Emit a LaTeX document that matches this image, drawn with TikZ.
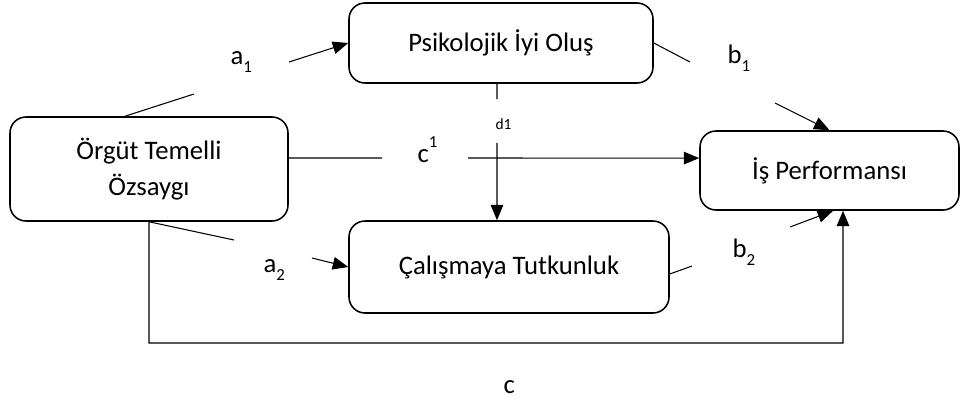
\documentclass[tikz,border=0pt]{standalone}
\usepackage{fontspec}
\setmainfont{Carlito}
\usetikzlibrary{arrows.meta}
\newcommand{\lsub}[2]{#1\raisebox{-6pt}{\fontsize{12}{12}\selectfont #2}}
\newcommand{\lsup}[2]{#1\raisebox{10pt}{\fontsize{12}{12}\selectfont #2}}
\begin{document}
\begin{tikzpicture}[x=0.25mm, y=-0.25mm, line width=0.75pt,
    >={Triangle[length=11pt, width=9pt]},
    box/.style={draw, line width=1.1pt, rounded corners=4mm, align=center,
      font=\fontsize{19}{25.6}\selectfont},
    lab/.style={inner sep=0pt, anchor=base west,
      font=\fontsize{19}{19}\selectfont}]
  \useasboundingbox (0,0) rectangle (960,400);
  \begin{scope}[every node/.style={box}]
    \node [minimum width=69.5mm, minimum height=26mm] (org) at (149,169)
    {Örgüt Temelli\\Özsaygı}; \node [minimum width=76mm, minimum
    height=20mm] (psi) at (501,43) {Psikolojik İyi Oluş}; \node
    [minimum width=80mm, minimum height=23mm] (cal) at (509,267)
    {Çalışmaya Tutkunluk}; \node [minimum width=64.75mm, minimum
    height=19.75mm] (is) at (829.5,170.5) {İş Performansı};
  \end{scope}
  \coordinate (a1in) at (194,94); \coordinate (a1out) at (289,62);
  \coordinate (a2in) at (234,240); \coordinate (a2out) at (312,258);
  \coordinate (b1in) at (690,62); \coordinate (b1out) at (775,103);
  \coordinate (b2in) at (692,266); \coordinate (b2out) at (790,227);
  \coordinate (c1in) at (382,158); \coordinate (c1out) at (468,158);
  \coordinate (d1in) at (497,99); \coordinate (d1out) at (497,143);
  \coordinate (cbend) at (843,343);
  \begin{scope}[->]
    \draw [-] ([xshift=-6mm]org.north) -- (a1in); \draw (a1out) --
    (psi.west); \draw [-] (org.south) -- (a2in); \draw (a2out) --
    (cal.west); \draw [-] (psi.east) -- (b1in); \draw (b1out) --
    (is.north); \draw [-] ([yshift=-1.75mm]cal.east) -- (b2in); \draw
    (b2out) -- ([xshift=0.9mm]is.south); \draw [-]
    ([yshift=2.75mm]org.east) -- (c1in); \draw (c1out) --
    ([yshift=3.1mm]is.west); \draw [-] ([xshift=-1mm]psi.south) --
    (d1in); \draw (d1out) -- ([xshift=-3mm]cal.north); \draw
    (org.south) |- (cbend) -- ([xshift=3.375mm]is.south);
  \end{scope}
  \node [lab] (a1) at (230,64) {\lsub{a}{1}};
  \node [lab] (a2) at (263,272) {\lsub{a}{2}};
  \node [lab] (b1) at (727,63) {\lsub{b}{1}};
  \node [lab] (b2) at (732,257) {\lsub{b}{2}};
  \node [lab] (c1) at (417,162) {\lsup{c}{1}};
  \node [lab, font=\fontsize{11}{11}\selectfont] (d1) at (495,129) {d1};
  \node [lab] (c) at (503,393) {c};
\end{tikzpicture}
\end{document}
